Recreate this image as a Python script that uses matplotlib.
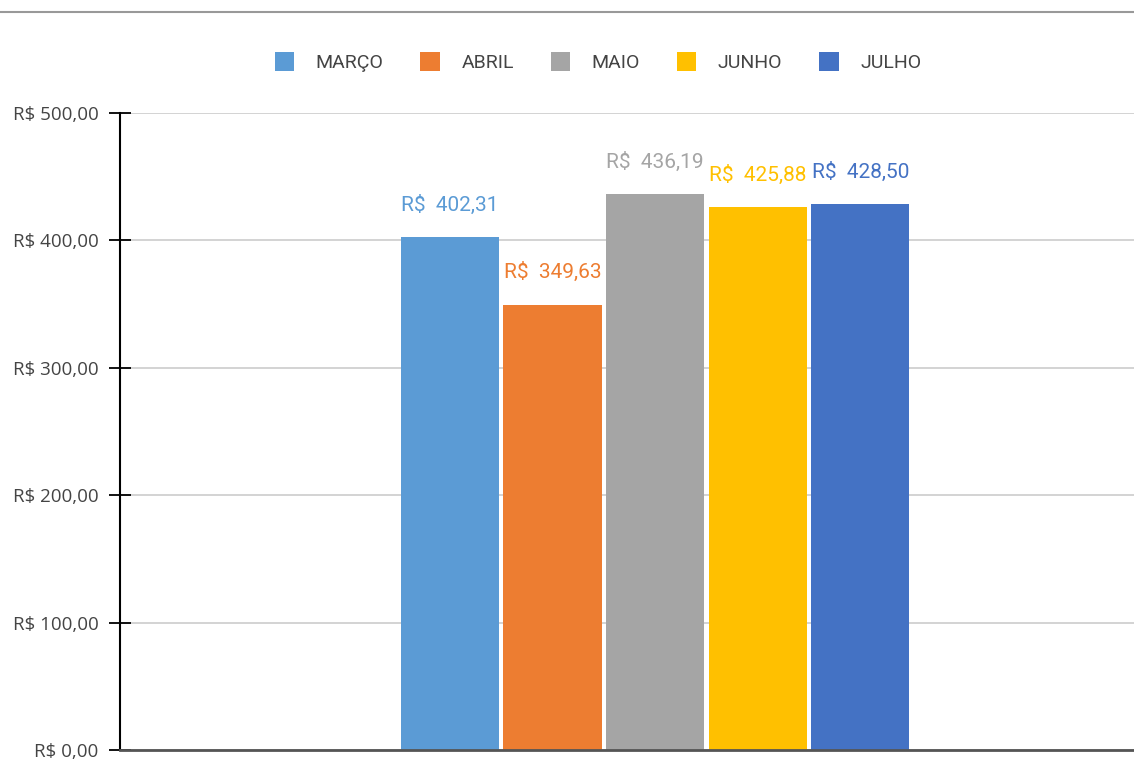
import matplotlib.pyplot as plt
from matplotlib.lines import Line2D

# dados
meses = ['MARÇO', 'ABRIL', 'MAIO', 'JUNHO', 'JULHO']
valores = [402.31, 349.63, 436.19, 425.88, 428.50]
cores = ['#5B9BD5', '#ED7D31', '#A5A5A5', '#FFC000', '#4472C4']
yticks = [0, 100, 200, 300, 400, 500]
ytick_labels = ['R$ 0,00', 'R$ 100,00', 'R$ 200,00', 'R$ 300,00', 'R$ 400,00', 'R$ 500,00']

fig = plt.figure(figsize=(11.34, 7.6), dpi=100)
ax = fig.add_axes([120 / 1134, 10 / 760, 1014 / 1134, 637 / 760])

for i, (m, v, c) in enumerate(zip(meses, valores, cores)):
    barra = ax.bar(i, v, width=0.96, color=c, label=m, zorder=3)
    txt = 'R$  ' + f'{v:.2f}'.replace('.', ',')
    ax.bar_label(barra, labels=[txt], padding=16, color=c,
                 fontsize=15, family=['Roboto', 'DejaVu Sans'])

ax.set_xlim(-3.22, 6.67)
ax.set_ylim(0, 500)
ax.set_xticks([])
ax.set_yticks(yticks)
ax.set_yticklabels(ytick_labels, family=['Open Sans', 'DejaVu Sans'],
                   fontsize=13.5, color='#444444')
ax.tick_params(axis='y', direction='inout', length=16, width=1.3, pad=7.5, color='black')
ax.grid(axis='y', color='#cccccc', linewidth=1.2, zorder=0)

for s in ['top', 'right']:
    ax.spines[s].set_visible(False)
ax.spines['left'].set_color('black')
ax.spines['left'].set_linewidth(1.5)
ax.spines['bottom'].set_color('#555555')
ax.spines['bottom'].set_linewidth(2)
ax.spines['bottom'].set_zorder(4)

fig.legend(loc='center', bbox_to_anchor=(598 / 1134, 1 - 62 / 760), ncol=5,
           frameon=False, handlelength=1.0, handleheight=1.1, handletextpad=1.1,
           columnspacing=1.9, prop={'family': ['Roboto', 'DejaVu Sans'], 'size': 14},
           labelcolor='#444444')

# linha cinza no topo
fig.add_artist(Line2D([0, 1], [1 - 12 / 760, 1 - 12 / 760], color='#999999', linewidth=1.5))

fig.savefig('out.png', dpi=100)
